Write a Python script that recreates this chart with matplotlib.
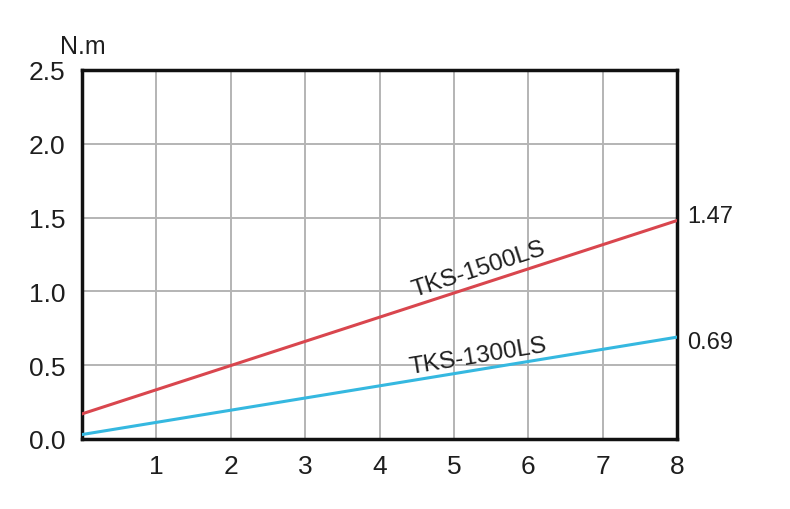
import numpy as np
from matplotlib import pyplot as plt

plt.rcParams["font.family"] = ["Liberation Sans", "DejaVu Sans"]

# Data
speed = [0, 8]
torque_1500 = [0.17, 1.48]
torque_1300 = [0.03, 0.69]
end_labels = ["1.47", "0.69"]
x_ticks = [1, 2, 3, 4, 5, 6, 7, 8]
y_ticks = [0.0, 0.5, 1.0, 1.5, 2.0, 2.5]

fig = plt.figure(figsize=(7.9, 5.1), dpi=100)
ax = fig.add_axes([0.1038, 0.1373, 0.7532, 0.7235])

red = "#d9464e"
cyan = "#35b8e0"
txt = "#1e1e1e"

ax.plot(speed, torque_1500, color=red, lw=2.2, zorder=3)
ax.plot(speed, torque_1300, color=cyan, lw=2.2, zorder=3)

ax.set_xlim(0, 8)
ax.set_ylim(0, 2.5)
ax.set_xticks(x_ticks)
ax.set_yticks(y_ticks)
ax.set_yticklabels([f"{v:.1f}" for v in y_ticks])
ax.tick_params(length=0, labelsize=19, colors=txt, pad=12)
ax.tick_params(axis="x", pad=11)
ax.grid(True, color="#b4b4b4", lw=1.4)
ax.set_axisbelow(True)
for s in ax.spines.values():
    s.set_linewidth(2.5)
    s.set_color("#111111")

# Line labels rotated along the lines
ang1 = np.degrees(np.arctan2(torque_1500[1] - torque_1500[0], speed[1] - speed[0]))
ang2 = np.degrees(np.arctan2(torque_1300[1] - torque_1300[0], speed[1] - speed[0]))
ax.text(5.33, 1.15, "TKS-1500LS", rotation=ang1, transform_rotates_text=True,
        rotation_mode="anchor", ha="center", va="center", fontsize=17.5, color=txt)
ax.text(5.33, 0.565, "TKS-1300LS", rotation=ang2, transform_rotates_text=True,
        rotation_mode="anchor", ha="center", va="center", fontsize=17.5, color=txt)

# End values
ax.text(8.14, 1.51, end_labels[0], ha="left", va="center", fontsize=17, color=txt)
ax.text(8.14, 0.66, end_labels[1], ha="left", va="center", fontsize=17, color=txt)

fig.text(0.105, 0.908, "N.m", ha="center", va="center", fontsize=18, color=txt)

fig.savefig("out.png", dpi=100)
